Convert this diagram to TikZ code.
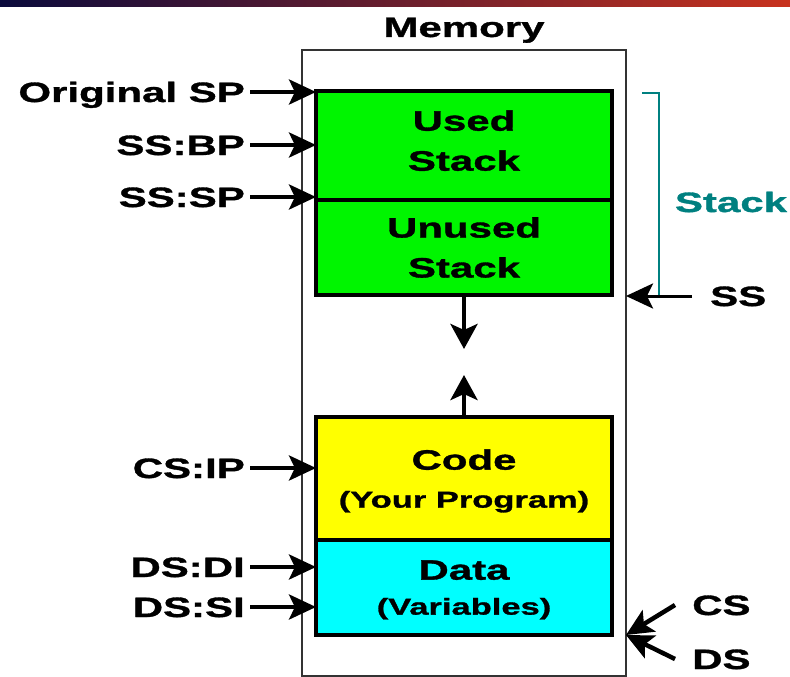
\documentclass[tikz,border=0pt]{standalone}
\usepackage{fontspec}
\setmainfont{Liberation Sans}[FakeStretch=1.5, FakeBold=1.2]
\usetikzlibrary{arrows.meta, positioning}
\definecolor{stackgreen}{RGB}{0,245,0}
\definecolor{codeyellow}{RGB}{255,255,0}
\definecolor{datacyan}{RGB}{0,255,255}
\definecolor{stackteal}{RGB}{0,128,128}
\definecolor{barnavy}{RGB}{10,10,60}
\definecolor{barplum}{RGB}{100,0,60}
\definecolor{barred}{RGB}{200,50,30}

\begin{document}
\begin{tikzpicture}[
        x=1pt, y=-1pt,
        >={Stealth[length=27pt, width=25pt, inset=6pt]},
        every node/.style={font=\fontsize{28}{40}\selectfont\bfseries},
        segment/.style={draw, line width=4.5pt, minimum width=296pt, outer sep=0pt, inner sep=0pt, align=center},
        reglabel/.style={anchor=east, text height=20pt, text depth=0pt, inner sep=5pt},
        ptr/.style={->, line width=4.5pt},
        growptr/.style={-{Stealth[length=25pt, width=27pt, inset=6pt]}, line width=4.5pt}
    ]

    \useasboundingbox (0,0) rectangle (790,677);
    \shade[left color=barnavy, middle color=barplum, right color=barred] (0,0) rectangle (790,7);

    % memory column
    \node[draw, line width=1.5pt, black!80, minimum width=324pt, minimum height=626pt, outer sep=0pt] (mem) at (464,363) {};
    \node[text height=20pt, text depth=0pt, inner sep=5pt] (memlbl) at (464,27) {Memory};

    \node[segment, fill=stackgreen, minimum height=109pt, text depth=10pt] (used) at (464,145.5) {Used\\Stack};
    \node[segment, fill=stackgreen, minimum height=95pt, below=0pt of used] (unused) {Unused\\Stack};
    \node[segment, fill=codeyellow, minimum height=123pt, text depth=0pt] (code) at (464,478.5)
        {Code\\[-2pt]\fontsize{23}{36}\selectfont(Your Program)};
    \node[segment, fill=datacyan, minimum height=95pt, text depth=0pt, below=0pt of code] (data)
        {Data\\[-5pt]\fontsize{23}{36}\selectfont(Variables)};

    \draw[growptr] (unused.south) -- ++(0,54);
    \draw[growptr] (code.north) -- ++(0,-42);

    % pointer registers
    \node[reglabel] (origsp) at (250,92) {Original SP};
    \node[reglabel] (ssbp) at (250,145) {SS:BP};
    \node[reglabel] (sssp) at (250,197) {SS:SP};
    \node[reglabel] (csip) at (250,468) {CS:IP};
    \node[reglabel] (dsdi) at (250,567) {DS:DI};
    \node[reglabel] (dssi) at (250,607) {DS:SI};

    \draw[ptr] (origsp.east) -- (origsp.east -| used.west);
    \draw[ptr] (ssbp.east) -- (ssbp.east -| used.west);
    \draw[ptr] (sssp.east) -- (sssp.east -| used.west);
    \draw[ptr] (csip.east) -- (csip.east -| code.west);
    \draw[ptr] (dsdi.east) -- (dsdi.east -| data.west);
    \draw[ptr] (dssi.east) -- (dssi.east -| data.west);

    % segment registers
    \draw[stackteal, line width=1.5pt] (642,93) -- (659,93) -- (659,296) -- (645,296);
    \node[text=stackteal] (stacklbl) at (731,202) {Stack};

    \node[reglabel, anchor=west] (ss) at (705,296) {SS};
    \node[reglabel, anchor=west] (cs) at (687,605) {CS};
    \node[reglabel, anchor=west] (ds) at (687,659) {DS};

    \draw[ptr, line width=3pt] ([xshift=-13pt]ss.west) -- (ss.west -| mem.east);
    \draw[ptr] ([xshift=-12pt]cs.west) -- (mem.east |- data.south);
    \draw[ptr] ([xshift=-12pt]ds.west) -- (mem.east |- data.south);

\end{tikzpicture}
\end{document}
